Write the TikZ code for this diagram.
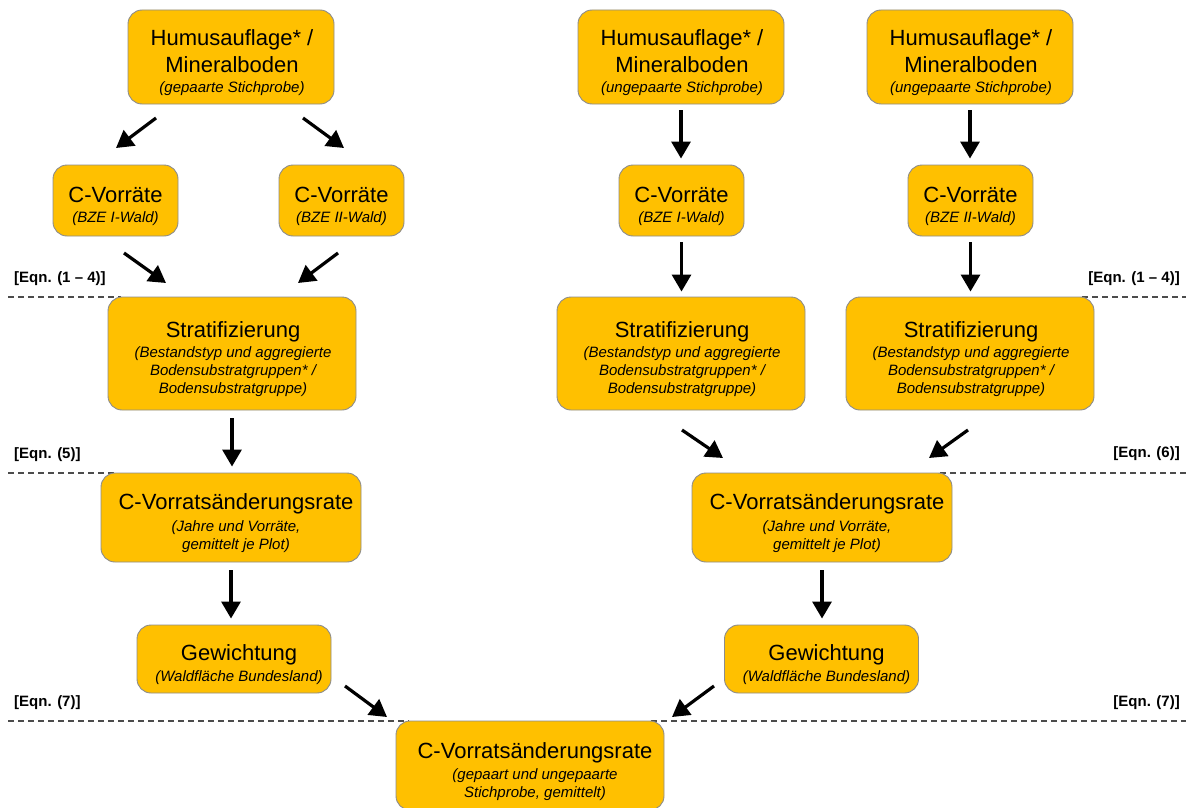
\documentclass[tikz,border=0pt]{standalone}
\usepackage{fontspec}
\setmainfont{Liberation Sans}
\usetikzlibrary{arrows.meta}
\definecolor{boxfill}{HTML}{FFC000}
\definecolor{boxline}{HTML}{8C8C8C}
\newcommand\tfn{\fontsize{22}{27}\selectfont}
\newcommand\sfn{\fontsize{15}{19}\selectfont\itshape}
% box: name, x, y, width, height, text x-offset, text
\newcommand\bx[7]{%
  \node[box, minimum width=#4, minimum height=#5] (#1) at (#2,#3) {};
  \node[txt] (#1t) at ([xshift=#6, yshift=-6pt]#1.center) {#7};}
\begin{document}
\begin{tikzpicture}[x=1pt,y=-1pt,
 box/.style={draw=boxline, fill=boxfill, line width=0.9pt, rounded corners=14pt, inner sep=0pt},
 txt/.style={align=center, inner sep=0pt, font=\tfn},
 arr/.style={line width=3.2pt, -{Triangle[length=17pt,width=19pt]}},
 sepline/.style={dash pattern=on 6pt off 4pt, line width=1.1pt, draw=black!70},
 eqn/.style={font=\fontsize{15}{18}\selectfont\bfseries, inner sep=0pt}]
\useasboundingbox (0,0) rectangle (1186,808);
\clip (0,0) rectangle (1186,808);

% separator lines (behind boxes, ending at the box corners)
\draw[sepline] (8,297) -- (121,297);
\draw[sepline] (1082,297) -- (1186,297);
\draw[sepline] (8,473) -- (114,473);
\draw[sepline] (940,473) -- (1186,473);
\draw[sepline] (8,721) -- (409,721);
\draw[sepline] (651,721) -- (1186,721);

% boxes
\bx{h1}{231}{57}{206pt}{94pt}{1pt}
  {Humusauflage* /\\Mineralboden\\[-7pt]{\sfn (gepaarte Stichprobe)}}
\bx{h2}{681}{57}{206pt}{94pt}{1pt}
  {Humusauflage* /\\Mineralboden\\[-7pt]{\sfn (ungepaarte Stichprobe)}}
\bx{h3}{970}{57}{206pt}{94pt}{1pt}
  {Humusauflage* /\\Mineralboden\\[-7pt]{\sfn (ungepaarte Stichprobe)}}

\bx{c1}{115.5}{200.5}{125pt}{71pt}{0pt}{C-Vorräte\\[-7pt]{\sfn (BZE I-Wald)}}
\bx{c2}{341.5}{200.5}{125pt}{71pt}{0pt}{C-Vorräte\\[-7pt]{\sfn (BZE II-Wald)}}
\bx{c3}{681.5}{200.5}{125pt}{71pt}{0pt}{C-Vorräte\\[-7pt]{\sfn (BZE I-Wald)}}
\bx{c4}{970.5}{200.5}{125pt}{71pt}{0pt}{C-Vorräte\\[-7pt]{\sfn (BZE II-Wald)}}

\bx{s1}{232}{353.5}{248pt}{113pt}{1pt}
  {Stratifizierung\\[-7pt]{\sfn (Bestandstyp und aggregierte}\\[-9pt]{\sfn Bodensubstratgruppen* /}\\[-9pt]{\sfn Bodensubstratgruppe)}}
\bx{s2}{681}{353.5}{248pt}{113pt}{1pt}
  {Stratifizierung\\[-7pt]{\sfn (Bestandstyp und aggregierte}\\[-9pt]{\sfn Bodensubstratgruppen* /}\\[-9pt]{\sfn Bodensubstratgruppe)}}
\bx{s3}{970}{353.5}{248pt}{113pt}{1pt}
  {Stratifizierung\\[-7pt]{\sfn (Bestandstyp und aggregierte}\\[-9pt]{\sfn Bodensubstratgruppen* /}\\[-9pt]{\sfn Bodensubstratgruppe)}}

\bx{r1}{231}{517.5}{260pt}{89pt}{5pt}
  {C-Vorratsänderungsrate\\[-5pt]{\sfn (Jahre und Vorräte,}\\[-9pt]{\sfn gemittelt je Plot)}}
\bx{r2}{822}{517.5}{260pt}{89pt}{5pt}
  {C-Vorratsänderungsrate\\[-5pt]{\sfn (Jahre und Vorräte,}\\[-9pt]{\sfn gemittelt je Plot)}}

\bx{g1}{234}{659}{194pt}{68pt}{5pt}{Gewichtung\\[-6pt]{\sfn (Waldfläche Bundesland)}}
\bx{g2}{821.5}{659}{194pt}{68pt}{5pt}{Gewichtung\\[-6pt]{\sfn (Waldfläche Bundesland)}}

\bx{f}{530}{765.5}{268pt}{89pt}{5pt}
  {C-Vorratsänderungsrate\\[-6pt]{\sfn (gepaart und ungepaarte}\\[-9pt]{\sfn Stichprobe, gemittelt)}}

% equation labels
\node[eqn, anchor=west] (e14l) at (14,279) {[Eqn. (1 – 4)]};
\node[eqn, anchor=east] (e14r) at (1180,279) {[Eqn. (1 – 4)]};
\node[eqn, anchor=west] (e5) at (14,455) {[Eqn. (5)]};
\node[eqn, anchor=east] (e6) at (1180,454) {[Eqn. (6)]};
\node[eqn, anchor=west] (e7l) at (14,703) {[Eqn. (7)]};
\node[eqn, anchor=east] (e7r) at (1180,703) {[Eqn. (7)]};

% arrow end points for diagonal arrows
\coordinate (a1s) at (156,118); \coordinate (a1e) at (116,148);
\coordinate (a2s) at (303,118); \coordinate (a2e) at (344,148);
\coordinate (a3s) at (124,253); \coordinate (a3e) at (166,283);
\coordinate (a4s) at (338,253); \coordinate (a4e) at (298,283);
\coordinate (a5s) at (682,430); \coordinate (a5e) at (723,458);
\coordinate (a6s) at (968,430); \coordinate (a6e) at (929,458);
\coordinate (a7s) at (345,686); \coordinate (a7e) at (387,717);
\coordinate (a8s) at (714,686); \coordinate (a8e) at (672,717);

% arrows
\draw[arr] (a1s) -- (a1e);
\draw[arr] (a2s) -- (a2e);
\draw[arr] (a3s) -- (a3e);
\draw[arr] (a4s) -- (a4e);
\draw[arr, shorten <=6pt, shorten >=6pt] (h2.south) -- (h2.south |- c3.north);
\draw[arr, shorten <=6pt, shorten >=6pt] (h3.south) -- (h3.south |- c4.north);
\draw[arr, shorten <=6pt, shorten >=5pt] (c3.south) -- (c3.south |- s2.north);
\draw[arr, shorten <=6pt, shorten >=5pt] (c4.south) -- (c4.south |- s3.north);
\draw[arr, shorten <=8pt, shorten >=6pt] (s1.south) -- (s1.south |- r1.north);
\draw[arr] (a5s) -- (a5e);
\draw[arr] (a6s) -- (a6e);
\draw[arr, shorten <=8pt, shorten >=6pt] (r1.south) -- (r1.south |- g1.north);
\draw[arr, shorten <=8pt, shorten >=6pt] (r2.south) -- (r2.south |- g2.north);
\draw[arr] (a7s) -- (a7e);
\draw[arr] (a8s) -- (a8e);
\end{tikzpicture}
\end{document}
